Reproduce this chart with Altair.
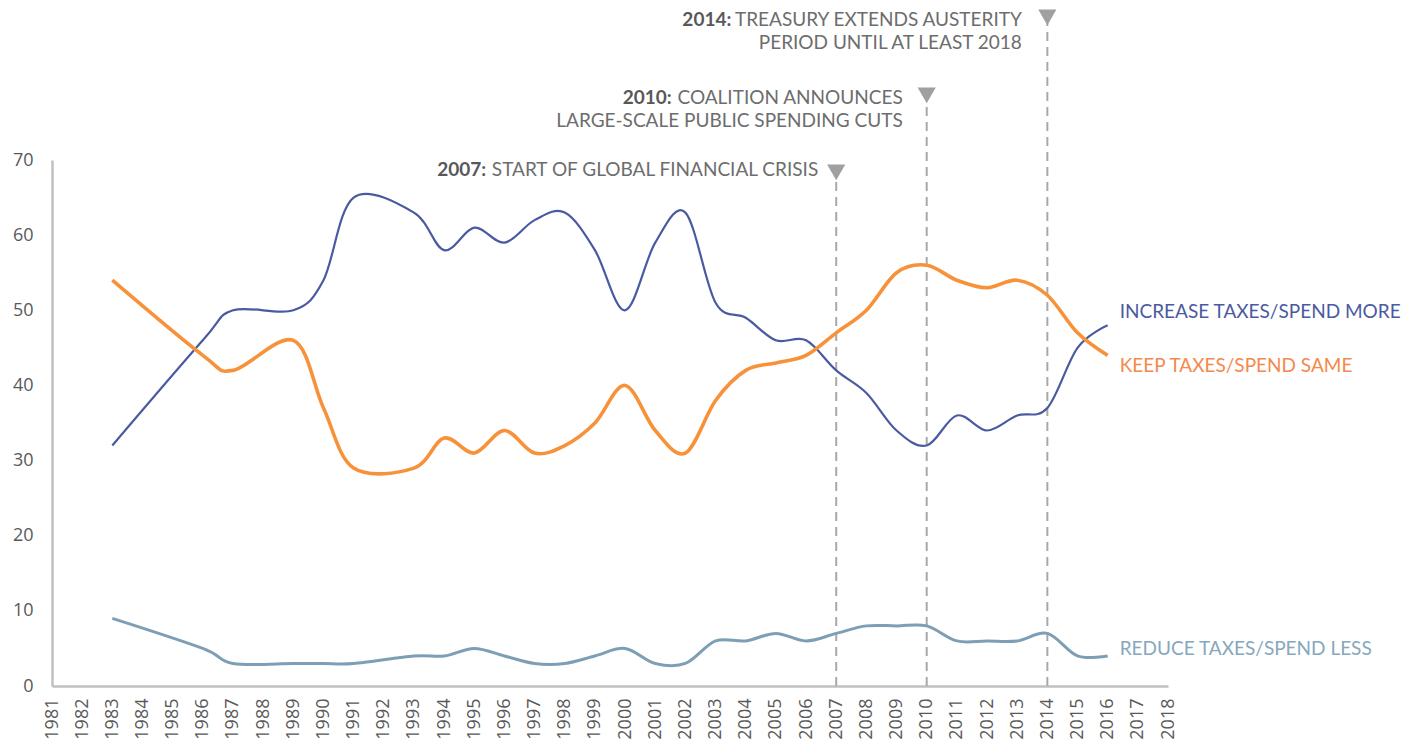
import altair as alt
import pandas as pd

# ---------------- data ----------------
years = [1983, 1986, 1987, 1989, 1990, 1991, 1993, 1994, 1995, 1996,
         1997, 1998, 1999, 2000, 2001, 2002, 2003, 2004, 2005, 2006,
         2007, 2008, 2009, 2010, 2011, 2012, 2013, 2014, 2015, 2016]
increase = [32, 46, 50, 50, 54, 65, 63, 58, 61, 59,
            62, 63, 58, 50, 59, 63, 51, 49, 46, 46,
            42, 39, 34, 32, 36, 34, 36, 37, 45, 48]
keep = [54, 44, 42, 46, 37, 29, 29, 33, 31, 34,
        31, 32, 35, 40, 34, 31, 38, 42, 43, 44,
        47, 50, 55, 56, 54, 53, 54, 52, 47, 44]
reduce_ = [9, 5, 3, 3, 3, 3, 4, 4, 5, 4,
           3, 3, 4, 5, 3, 3, 6, 6, 7, 6,
           7, 8, 8, 8, 6, 6, 6, 7, 4, 4]

series_names = ["INCREASE TAXES/SPEND MORE", "KEEP TAXES/SPEND SAME", "REDUCE TAXES/SPEND LESS"]
series_colors = ["#4a5aa1", "#f7923a", "#7d9fb6"]
label_colors = ["#4a5aa1", "#f4894c", "#86a7bc"]
series_widths = [2.2, 3.6, 3.0]
label_y = [49.8, 42.6, 4.9]   # label anchor values next to the line ends

tick_years = list(range(1981, 2019))
y_ticks = [0, 10, 20, 30, 40, 50, 60, 70]

event_years = [2007, 2010, 2014]
event_bold = ["2007:", "2010:", "2014:"]
event_line1 = ["START OF GLOBAL FINANCIAL CRISIS", "COALITION ANNOUNCES", "TREASURY EXTENDS AUSTERITY"]
event_line2 = ["", "LARGE-SCALE PUBLIC SPENDING CUTS", "PERIOD UNTIL AT LEAST 2018"]

# layout of the annotations (value units of y axis, pixel offsets)
event_tri_y = [68.34, 78.59, 88.97]
event_l1_y = [68.67, 78.25, 88.63]
event_l2_y = [0, 75.15, 85.53]
event_dx_end = [-18, -24, -25.5]
event_dx_bold = [-350, -255, -316]

FONT = "Lato"
AXFONT = "Open Sans"
XS = alt.Scale(domain=[1981, 2018], nice=False, zero=False)
YS = alt.Scale(domain=[0, 70], nice=False, zero=False)
X_AXIS = alt.Axis(values=tick_years, format="d", labelAngle=-90, labelAlign="right",
                  labelBaseline="middle", labelPadding=12, ticks=False, grid=False,
                  domainColor="#c0c0c0", domainWidth=2.5, labelFont=AXFONT, labelFontSize=18,
                  labelColor="#595959", labelOverlap=False, labelFlush=False, title=None)
Y_AXIS = alt.Axis(values=y_ticks, ticks=False, grid=False, labelPadding=19,
                  domainColor="#c0c0c0", domainWidth=2.5, labelFont=AXFONT, labelFontSize=18,
                  labelColor="#595959", title=None)


def xe(field="year"):
    return alt.X(f"{field}:Q", scale=XS, axis=X_AXIS, title=None)


def ye(field="value"):
    return alt.Y(f"{field}:Q", scale=YS, axis=Y_AXIS, title=None)


layers = []

# event rules and triangles
ev_df = pd.DataFrame({"year": event_years, "top": event_tri_y, "bottom": [0, 0, 0]})
rules = alt.Chart(ev_df).mark_rule(color="#a8a8a8", strokeWidth=2, strokeDash=[9, 6]).encode(
    x=xe(), y=ye("bottom"), y2="top:Q",
)
tris = alt.Chart(ev_df).mark_point(shape="triangle-down", filled=True, size=330,
                                   color="#a0a0a0", opacity=1).encode(
    x=xe(), y=ye("top"),
)
layers += [rules, tris]

# series lines
for name, vals, col, w in zip(series_names, [increase, keep, reduce_], series_colors, series_widths):
    df = pd.DataFrame({"year": years, "value": vals})
    layers.append(
        alt.Chart(df).mark_line(interpolate="cardinal", color=col, strokeWidth=w).encode(
            x=xe(), y=ye(),
        )
    )

# series end labels
lab_df = pd.DataFrame({"year": [2016] * 3, "value": label_y, "label": series_names})
layers.append(
    alt.Chart(lab_df).mark_text(align="left", baseline="middle", dx=12, font=FONT, fontSize=19).encode(
        x=xe(), y=ye(),
        text="label:N",
        color=alt.Color("label:N", scale=alt.Scale(domain=series_names, range=label_colors), legend=None),
    )
)

# event annotations
for i, yr in enumerate(event_years):
    d1 = pd.DataFrame({"year": [yr], "value": [event_l1_y[i]], "t": [event_line1[i]], "b": [event_bold[i]]})
    layers.append(
        alt.Chart(d1).mark_text(align="right", baseline="middle", dx=event_dx_end[i], font=FONT,
                                fontSize=19, color="#6d6d6d").encode(
            x=xe(), y=ye(), text="t:N",
        )
    )
    layers.append(
        alt.Chart(d1).mark_text(align="right", baseline="middle", dx=event_dx_bold[i], font=FONT,
                                fontSize=19, fontWeight="bold", color="#58585a").encode(
            x=xe(), y=ye(), text="b:N",
        )
    )
    if event_line2[i]:
        d2 = pd.DataFrame({"year": [yr], "value": [event_l2_y[i]], "t": [event_line2[i]]})
        layers.append(
            alt.Chart(d2).mark_text(align="right", baseline="middle", dx=event_dx_end[i], font=FONT,
                                    fontSize=19, color="#6d6d6d").encode(
                x=xe(), y=ye(), text="t:N",
            )
        )

chart = alt.layer(*layers).properties(
    width=1116,
    height=526,
    padding={"left": 44, "top": 152, "right": 250, "bottom": 60},
    autosize=alt.AutoSizeParams(type="none"),
    background="white",
).configure_view(strokeWidth=0)

chart.save("out.html", embed_options={"renderer": "svg", "actions": False})
